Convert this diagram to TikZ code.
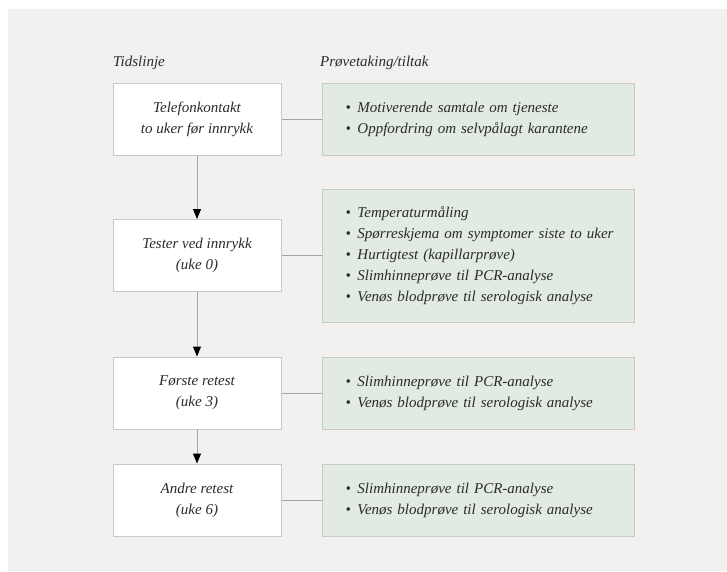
\documentclass[tikz,border=0pt]{standalone}
\usepackage{fontspec}
\setmainfont{Liberation Serif}
\usepackage{tikz}
\usetikzlibrary{arrows.meta}

\definecolor{bggray}{HTML}{F2F1EF}
\definecolor{boxline}{HTML}{C9C9C7}
\definecolor{greenfill}{HTML}{E1EBE2}
\definecolor{linkgray}{HTML}{A3A3A3}
\definecolor{txtgray}{HTML}{2B2B2B}

\newcommand{\bl}{\hspace*{11pt}\makebox[12pt][l]{\textbullet}}

\tikzset{
	every node/.style={font=\fontsize{15}{21}\selectfont\itshape, text=txtgray},
	timebox/.style={draw=boxline, line width=1pt, fill=white, minimum width=168pt, minimum height=72pt, align=center, inner sep=0pt},
	actbox/.style={draw=boxline, line width=1pt, fill=greenfill, minimum width=312pt, minimum height=72pt, text width=288pt, align=left, inner xsep=12pt, inner ysep=0pt, anchor=west},
	link/.style={draw=linkgray, line width=1pt},
	arr/.style={draw=linkgray, line width=1pt, -{Triangle[width=8pt,length=10pt,color=black]}}
}

\begin{document}
\begin{tikzpicture}[x=1pt, y=-1pt]
	
	\useasboundingbox (0,0) rectangle (727,571);
	\fill[bggray] (8,9) rectangle (727,571);
	
	% headings
	\node[anchor=west, inner sep=0pt] (head1) at (113,63) {Tidslinje};
	\node[anchor=west, inner sep=0pt] (head2) at (320,63) {Prøvetaking/tiltak};
	
	% timeline
	\node[timebox] (b1) at (197,119) {Telefonkontakt\\to uker før innrykk};
	\node[timebox] (b2) at (197,255.5) {Tester ved innrykk\\(uke 0)};
	\node[timebox] (b3) at (197,393) {Første retest\\(uke 3)};
	\node[timebox] (b4) at (197,500) {Andre retest\\(uke 6)};
	
	% measures
	\node[actbox] (g1) at (322,119) {\bl Motiverende samtale om tjeneste\\\bl Oppfordring om selvpålagt karantene};
	\node[actbox, minimum height=133pt] (g2) at (322,255.5) {\bl Temperaturmåling\\\bl Spørreskjema om symptomer siste to uker\\\bl Hurtigtest (kapillarprøve)\\\bl Slimhinneprøve til PCR-analyse\\\bl Venøs blodprøve til serologisk analyse};
	\node[actbox] (g3) at (322,393) {\bl Slimhinneprøve til PCR-analyse\\\bl Venøs blodprøve til serologisk analyse};
	\node[actbox] (g4) at (322,500) {\bl Slimhinneprøve til PCR-analyse\\\bl Venøs blodprøve til serologisk analyse};
	
	\draw[link] (b1.east) -- (g1.west);
	\draw[link] (b2.east) -- (g2.west);
	\draw[link] (b3.east) -- (g3.west);
	\draw[link] (b4.east) -- (g4.west);
	
	\draw[arr] (b1.south) -- (b2.north);
	\draw[arr] (b2.south) -- (b3.north);
	\draw[arr] (b3.south) -- (b4.north);
	
\end{tikzpicture}
\end{document}
